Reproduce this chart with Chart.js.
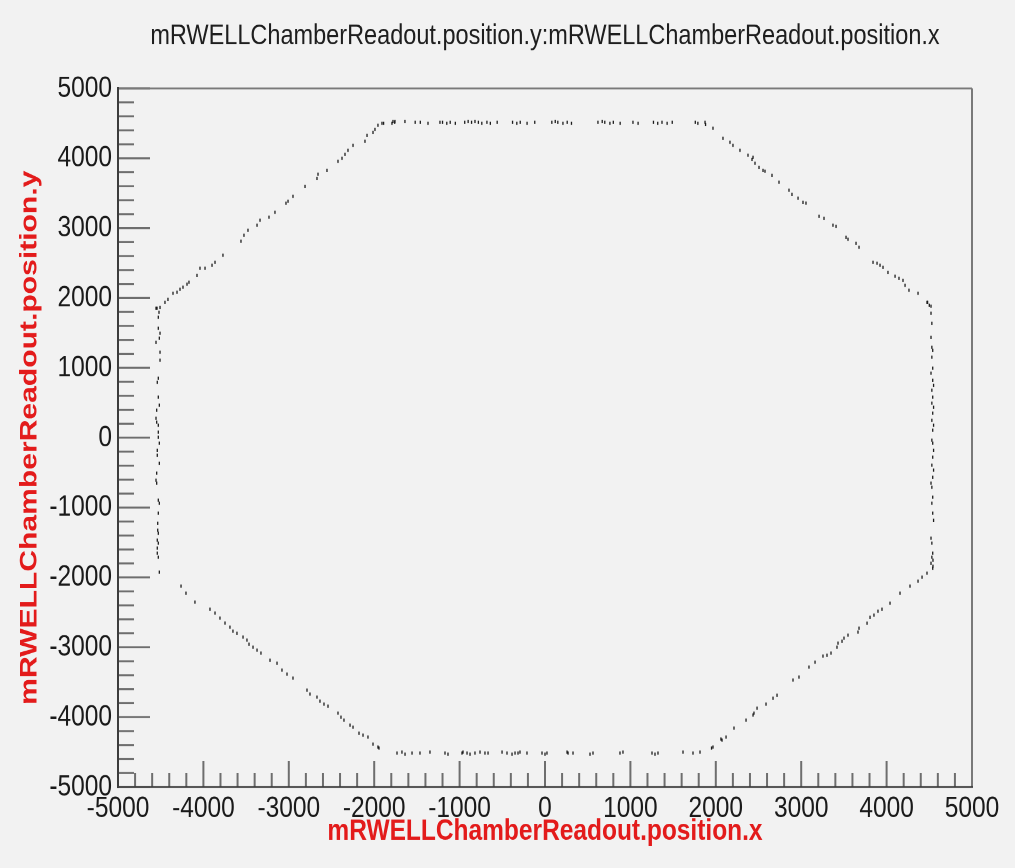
<!DOCTYPE html>
<html><head><meta charset="utf-8">
<script src="https://cdn.jsdelivr.net/npm/chart.js@4.4.1/dist/chart.umd.min.js"></script>
<style>
html,body{margin:0;padding:0;background:#f2f2f2;overflow:hidden;width:1015px;height:868px}
#wrap{width:1015px;height:707px;position:absolute;left:0;top:0;transform:scaleY(1.22772);transform-origin:0 0}
</style>
</head><body><div id="wrap"><canvas id="c"></canvas></div>
<script>
const chartTitle = "mRWELLChamberReadout.position.y:mRWELLChamberReadout.position.x";
const xAxisTitle = "mRWELLChamberReadout.position.x";
const yAxisTitle = "mRWELLChamberReadout.position.y";
const xTickLabels = ["-5000","-4000","-3000","-2000","-1000","0","1000","2000","3000","4000","5000"];
const yTickLabels = ["-5000","-4000","-3000","-2000","-1000","0","1000","2000","3000","4000","5000"];

// [x, y] hits, one array per side of the octagon
const topEdge = [[-1890,4500],[-1780,4529],[-1760,4515],[-1640,4529],[-1520,4515],[-1460,4515],[-1370,4500],[-1230,4515],[-1200,4515],[-1150,4500],[-1110,4515],[-1050,4500],[-940,4515],[-900,4529],[-860,4515],[-820,4529],[-780,4515],[-740,4500],[-680,4515],[-640,4500],[-560,4515],[-380,4515],[-330,4500],[-290,4515],[-210,4500],[-120,4515],[80,4515],[120,4529],[150,4515],[210,4500],[260,4515],[310,4500],[620,4515],[670,4529],[700,4515],[760,4500],[800,4515],[880,4500],[1030,4515],[1090,4500],[1270,4515],[1320,4500],[1370,4515],[1430,4500],[1490,4515],[1760,4515],[1790,4500],[1880,4486]];
const topRightEdge = [[1874,4515],[1967,4429],[2084,4286],[2166,4229],[2201,4186],[2283,4114],[2377,4043],[2424,3985],[2436,4014],[2459,3928],[2506,3871],[2553,3828],[2576,3814],[2658,3757],[2740,3657],[2857,3542],[2892,3485],[2963,3428],[3021,3371],[3056,3357],[3209,3170],[3267,3142],[3372,3041],[3408,3027],[3525,2870],[3548,2841],[3642,2783],[3677,2726],[3841,2511],[3888,2497],[3923,2468],[3958,2440],[4016,2368],[4099,2311],[4145,2282],[4192,2254],[4216,2182],[4262,2111],[4368,2068],[4473,1939],[4520,1882]];
const rightEdge = [[4480,1939],[4500,1896],[4520,1782],[4530,1639],[4520,1438],[4530,1295],[4540,1252],[4530,1152],[4540,995],[4520,923],[4540,823],[4550,751],[4530,680],[4540,580],[4530,494],[4550,437],[4540,351],[4530,250],[4550,179],[4540,107],[4530,-36],[4540,-79],[4550,-179],[4540,-279],[4530,-394],[4550,-465],[4540,-565],[4520,-651],[4530,-709],[4540,-852],[4530,-938],[4540,-1081],[4550,-1181],[4520,-1438],[4530,-1510],[4540,-1653],[4530,-1710],[4520,-1796],[4540,-1868]];
const bottomRightEdge = [[4543,-1753],[4543,-1839],[4473,-1939],[4415,-1996],[4368,-2054],[4274,-2125],[4157,-2225],[4040,-2368],[3946,-2454],[3899,-2483],[3852,-2540],[3806,-2569],[3771,-2655],[3677,-2726],[3665,-2783],[3548,-2826],[3501,-2869],[3478,-2912],[3431,-2941],[3419,-2998],[3349,-3084],[3302,-3113],[3255,-3127],[3162,-3213],[3091,-3284],[2974,-3427],[2904,-3470],[2717,-3685],[2670,-3728],[2588,-3814],[2483,-3871],[2447,-3943],[2436,-3971],[2354,-4043],[2213,-4157],[2120,-4286],[2073,-4329],[1967,-4429],[1950,-4443],[2060,-4314]];
const bottomEdge = [[-1733,-4515],[-1675,-4500],[-1639,-4529],[-1557,-4515],[-1464,-4515],[-1347,-4500],[-1171,-4515],[-1136,-4529],[-972,-4515],[-960,-4500],[-913,-4515],[-878,-4529],[-820,-4515],[-761,-4500],[-703,-4515],[-667,-4515],[-503,-4500],[-445,-4515],[-386,-4529],[-351,-4515],[-316,-4515],[-293,-4500],[-211,-4515],[-35,-4515],[0,-4529],[23,-4515],[258,-4500],[270,-4515],[328,-4515],[527,-4529],[562,-4515],[878,-4515],[913,-4500],[1253,-4515],[1288,-4529],[1323,-4515],[1616,-4500],[1733,-4515],[1815,-4500]];
const bottomLeftEdge = [[-4262,-2125],[-4204,-2225],[-4099,-2354],[-3923,-2454],[-3864,-2511],[-3806,-2583],[-3747,-2654],[-3689,-2712],[-3654,-2769],[-3607,-2798],[-3536,-2855],[-3490,-2898],[-3466,-2955],[-3419,-2998],[-3372,-3041],[-3326,-3084],[-3220,-3184],[-3138,-3227],[-3080,-3327],[-3021,-3384],[-2951,-3441],[-2787,-3613],[-2752,-3670],[-2670,-3713],[-2635,-3771],[-2588,-3814],[-2541,-3842],[-2424,-3943],[-2389,-4000],[-2354,-4043],[-2283,-4114],[-2248,-4143],[-2178,-4229],[-2131,-4257],[-2073,-4286],[-2014,-4386],[-1956,-4429],[-1944,-4443]];
const leftEdge = [[-4555,1853],[-4520,1796],[-4528,1724],[-4528,1567],[-4508,1495],[-4516,1424],[-4555,1367],[-4508,1224],[-4508,1109],[-4528,851],[-4540,794],[-4528,580],[-4516,465],[-4547,394],[-4555,279],[-4547,222],[-4528,179],[-4528,79],[-4528,7],[-4516,-79],[-4540,-179],[-4540,-250],[-4516,-365],[-4547,-508],[-4555,-608],[-4547,-651],[-4528,-895],[-4516,-938],[-4528,-1081],[-4535,-1224],[-4535,-1324],[-4528,-1367],[-4540,-1467],[-4528,-1510],[-4540,-1581],[-4540,-1653],[-4528,-1710],[-4516,-1925]];
const topLeftEdge = [[-4543,1853],[-4508,1867],[-4450,1939],[-4415,1982],[-4356,2068],[-4309,2082],[-4274,2125],[-4239,2154],[-4192,2197],[-4169,2225],[-4075,2325],[-4040,2425],[-3981,2425],[-3899,2468],[-3864,2511],[-3771,2612],[-3560,2812],[-3525,2898],[-3478,2969],[-3372,3041],[-3337,3113],[-3232,3156],[-3162,3227],[-3033,3356],[-3009,3384],[-2951,3456],[-2810,3599],[-2670,3713],[-2658,3771],[-2553,3828],[-2424,3957],[-2377,3999],[-2342,4057],[-2307,4114],[-2248,4186],[-2108,4243],[-2084,4329],[-2014,4372],[-1991,4415],[-1956,4472],[-1909,4500],[-1792,4500],[-1757,4529]];

const hits = [].concat(topEdge, topRightEdge, rightEdge, bottomRightEdge, bottomEdge, bottomLeftEdge, leftEdge, topLeftEdge)
  .map(p => ({x: p[0], y: p[1]}));

const SANS = "'Liberation Sans', Arial, Helvetica, sans-serif";

const bgPlugin = {
  id: 'bg',
  beforeDraw(chart) {
    const c = chart.ctx; c.save(); c.fillStyle = '#f2f2f2';
    c.fillRect(0, 0, chart.width, chart.height); c.restore();
  }
};
const titlePlugin = {
  id: 'rootTitle',
  afterDraw(chart) {
    const c = chart.ctx, a = chart.chartArea;
    c.save(); c.font = "23.5px " + SANS; c.fillStyle = '#1e1e1e';
    c.textAlign = 'center'; c.textBaseline = 'middle';
    c.fillText(chartTitle, (a.left + a.right) / 2, 29.5); c.restore();
  }
};
const framePlugin = {
  id: 'frameTicks',
  afterDatasetsDraw(chart) {
    const c = chart.ctx, a = chart.chartArea, xs = chart.scales.x, ys = chart.scales.y;
    c.save(); c.lineCap = 'butt';
    const seg = (x1, y1, x2, y2, w) => { c.lineWidth = w; c.beginPath(); c.moveTo(x1, y1); c.lineTo(x2, y2); c.stroke(); };
    c.strokeStyle = '#6e6e6e';
    const xt = xs.ticks.map(t => t.value);
    xt.forEach((v, i) => {
      const p = xs.getPixelForValue(v); seg(p, a.bottom, p, a.bottom - 21, 2);
      if (i < xt.length - 1) { const st = (xt[i+1] - v) / 5;
        for (let k = 1; k < 5; k++) { const q = xs.getPixelForValue(v + k*st); seg(q, a.bottom, q, a.bottom - 11.5, 2); } }
    });
    const yt = ys.ticks.map(t => t.value);
    yt.forEach((v, i) => {
      const p = ys.getPixelForValue(v); seg(a.left, p, a.left + 32, p, 1.6);
      if (i < yt.length - 1) { const st = (yt[i+1] - v) / 5;
        for (let k = 1; k < 5; k++) { const q = ys.getPixelForValue(v + k*st); seg(a.left, q, a.left + 16, q, 1.6); } }
    });
    c.strokeStyle = '#7a7a7a';
    seg(a.left, a.top, a.right, a.top, 1.6); seg(a.right, a.top, a.right, a.bottom, 2);
    c.strokeStyle = '#3c3c3c';
    seg(a.left - 1, a.bottom, a.right + 1, a.bottom, 1.6); seg(a.left, a.top - 1, a.left, a.bottom + 1, 2);
    c.restore();
  }
};

new Chart(document.getElementById('c'), {
  type: 'scatter',
  data: { datasets: [{ data: hits, pointStyle: 'line', rotation: 90, pointRadius: 1.3,
    borderWidth: 1.3, borderColor: '#1c1c1c', backgroundColor: '#1c1c1c', pointHoverRadius: 1.3 }] },
  options: {
    responsive: true, maintainAspectRatio: false, animation: false, events: [], devicePixelRatio: 2,
    layout: { padding: { top: 72, right: 43, bottom: 0, left: 0 } },
    plugins: { legend: { display: false }, tooltip: { enabled: false }, title: { display: false } },
    scales: {
      x: {
        type: 'linear', position: 'bottom', min: -5000, max: 5000,
        afterFit(s) { s.height = 66; },
        afterBuildTicks(s) { s.ticks = xTickLabels.map(v => ({ value: Number(v) })); },
        ticks: { autoSkip: false, maxRotation: 0, padding: 3, color: '#1a1a1a',
          font: { family: SANS, size: 24.5 }, callback: (v) => String(v) },
        grid: { display: false, drawTicks: false }, border: { display: false },
        title: { display: true, text: xAxisTitle, color: '#e31b1b',
          font: { family: SANS, size: 24.5, weight: 'bold' }, padding: { top: 0, bottom: 15 } }
      },
      y: {
        type: 'linear', position: 'left', min: -5000, max: 5000,
        afterFit(s) { s.width = 118; },
        afterBuildTicks(s) { s.ticks = yTickLabels.map(v => ({ value: Number(v) })); },
        ticks: { autoSkip: false, padding: 6, color: '#1a1a1a',
          font: { family: SANS, size: 24.5 }, callback: (v) => String(v) },
        grid: { display: false, drawTicks: false }, border: { display: false },
        title: { display: true, text: yAxisTitle, color: '#e31b1b',
          font: { family: SANS, size: 24.5, weight: 'bold' }, padding: { top: 15, bottom: 0 } }
      }
    }
  },
  plugins: [bgPlugin, titlePlugin, framePlugin]
});
</script></body></html>
